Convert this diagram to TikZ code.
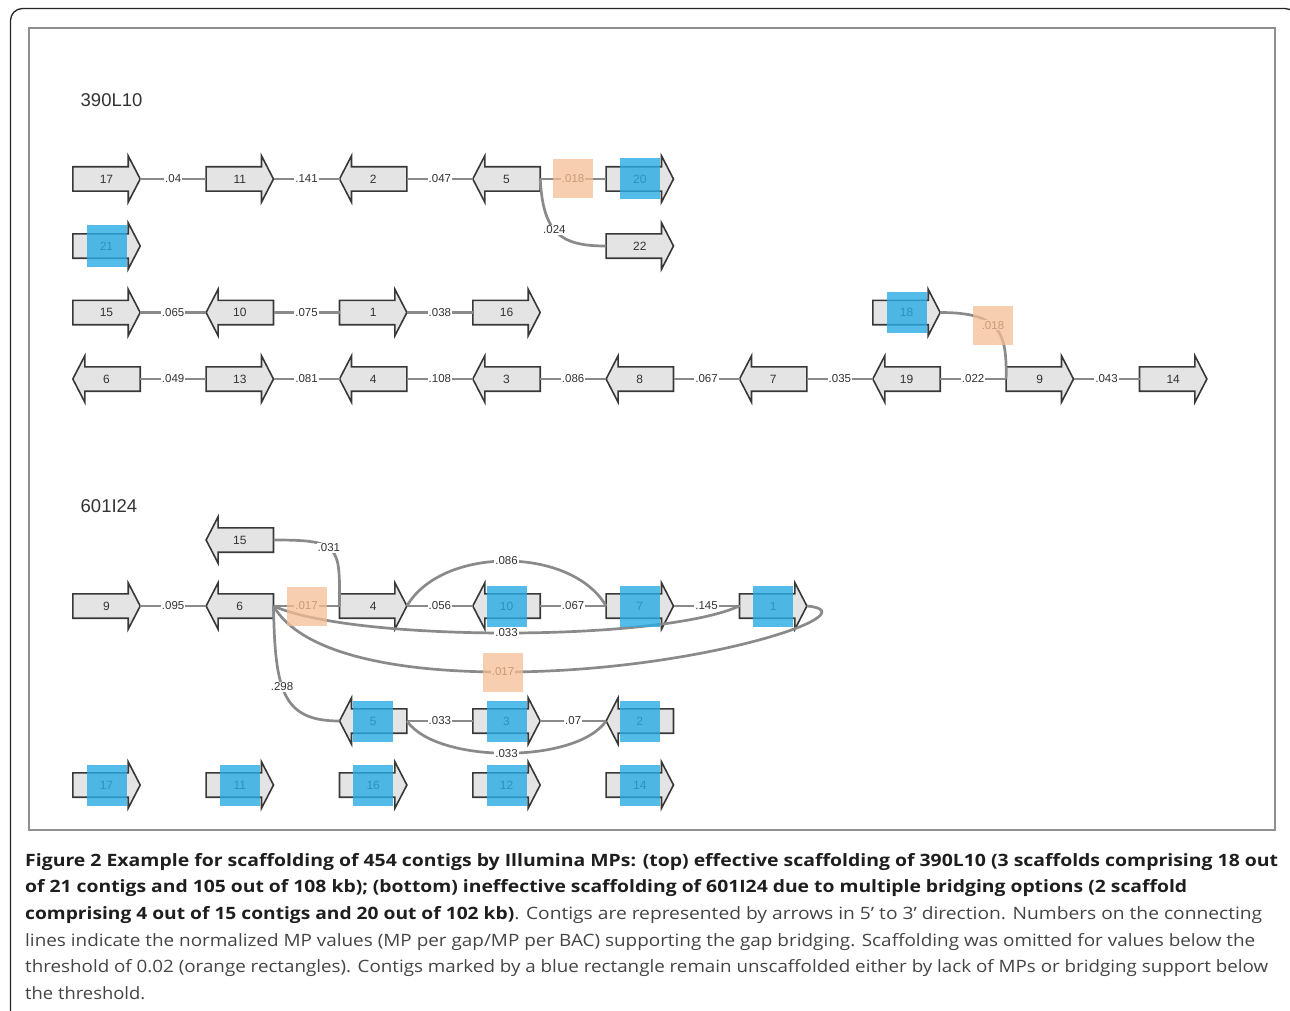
\documentclass[tikz,border=0pt]{standalone}
\usepackage{fontspec}
\setmainfont{Liberation Sans}
\newfontfamily\capfont{Open Sans}
\usepackage{graphicx}
\pgfdeclarelayer{bg}
\pgfdeclarelayer{fg}
\pgfsetlayers{bg,main,fg}
\definecolor{arrfill}{HTML}{E4E4E4}
\definecolor{arrline}{HTML}{383838}
\definecolor{conncol}{HTML}{8A8A8A}
\definecolor{txtcol}{HTML}{333333}
\definecolor{bluebox}{HTML}{29ABE2}
\definecolor{orangebox}{HTML}{F6BE95}
\definecolor{framecol}{HTML}{8F8F8F}
\definecolor{capbold}{HTML}{1E1E1E}
\definecolor{capreg}{HTML}{444444}
\tikzset{
  conn/.style={draw=conncol, line width=2.7pt},
  lbl/.style={fill=white, inner sep=1pt, font=\fontsize{11.5}{13}\selectfont, text=txtcol},
  contig/.style={rectangle, minimum width=67pt, minimum height=24pt, inner sep=0pt, font=\fontsize{12}{13}\selectfont, text=txtcol},
  arrowshape/.style={fill=arrfill, draw=arrline, line width=1.6pt, line join=miter},
  bbox/.style={fill=bluebox, fill opacity=0.8, minimum width=40pt, minimum height=41pt, inner sep=0pt},
  obox/.style={fill=orangebox, fill opacity=0.75, minimum width=40pt, minimum height=39pt, inner sep=0pt},
  sectitle/.style={anchor=west, inner sep=0pt, font=\fontsize{18.5}{20}\selectfont, text=txtcol},
  capl/.style={anchor=base west, inner sep=0pt, font=\capfont\fontsize{17}{20}\selectfont}
}
\newcommand\ctgR[4]{%
  \node[contig] (#1) at (#2,#3) {#4};
  \begin{pgfonlayer}{bg}
  \draw[arrowshape] (#1.north west) -- ([xshift=-12pt]#1.north east) -- ([xshift=-12pt,yshift=11pt]#1.north east) -- (#1.east) -- ([xshift=-12pt,yshift=-11pt]#1.south east) -- ([xshift=-12pt]#1.south east) -- (#1.south west) -- cycle;
  \end{pgfonlayer}}
\newcommand\ctgL[4]{%
  \node[contig] (#1) at (#2,#3) {#4};
  \begin{pgfonlayer}{bg}
  \draw[arrowshape] (#1.north east) -- ([xshift=12pt]#1.north west) -- ([xshift=12pt,yshift=11pt]#1.north west) -- (#1.west) -- ([xshift=12pt,yshift=-11pt]#1.south west) -- ([xshift=12pt]#1.south west) -- (#1.south east) -- cycle;
  \end{pgfonlayer}}
\newsavebox\capbox
\newcommand\capline[2]{\sbox\capbox{#2}\pgfmathsetmacro\capr{#1/\wd\capbox}\scalebox{\capr}[1]{\usebox\capbox}}
\begin{document}
\begin{tikzpicture}[x=1pt,y=-1pt]
\useasboundingbox (0,0) rectangle (1290,1011);
% frames
\draw[black!85, line width=1.3pt, rounded corners=12pt] (10.5,8.5) rectangle (1297,1030);
\draw[framecol, line width=2pt] (29,28) rectangle (1275,830);
% titles
\node[sectitle] (s1) at (80.5,100) {390L10};
\node[sectitle] (s2) at (80.5,506) {601I24};
% ---------- 390L10 ----------
\ctgR{t17}{106.5}{179}{17}
\ctgR{t11}{239.8}{179}{11}
\ctgL{t2}{373.2}{179}{2}
\ctgL{t5}{506.5}{179}{5}
\ctgR{t20}{639.8}{179}{20}
\ctgR{t21}{106.5}{246}{21}
\ctgR{t22}{639.8}{246}{22}
\ctgR{t15}{106.5}{312.5}{15}
\ctgL{t10}{239.8}{312.5}{10}
\ctgR{t1}{373.2}{312.5}{1}
\ctgR{t16}{506.5}{312.5}{16}
\ctgR{t18}{906.5}{312.5}{18}
\ctgL{t6}{106.5}{379}{6}
\ctgR{t13}{239.8}{379}{13}
\ctgL{t4}{373.2}{379}{4}
\ctgL{t3}{506.5}{379}{3}
\ctgL{t8}{639.8}{379}{8}
\ctgL{t7}{773.2}{379}{7}
\ctgL{t19}{906.5}{379}{19}
\ctgR{t9}{1039.8}{379}{9}
\ctgR{t14}{1173.2}{379}{14}
\draw[conn] (t17.east) -- (t11.west) node[lbl, midway] (l1) {.04};
\draw[conn] (t11.east) -- (t2.west) node[lbl, midway] (l2) {.141};
\draw[conn] (t2.east) -- (t5.west) node[lbl, midway] (l3) {.047};
\draw[conn] (t5.east) -- (t20.west) node[lbl, midway] (l4) {.018};
\draw[conn] (t5.east) .. controls +(3,55) and +(-45,0) .. (t22.west) node[lbl, pos=0.45] (l5) {.024};
\draw[conn] (t15.east) -- (t10.west) node[lbl, midway] (l6) {.065};
\draw[conn] (t10.east) -- (t1.west) node[lbl, midway] (l7) {.075};
\draw[conn] (t1.east) -- (t16.west) node[lbl, midway] (l8) {.038};
\draw[conn] (t18.east) .. controls (1000,312.5) and (1007,332) .. (t9.west) node[lbl, pos=0.45] (l9) {.018};
\draw[conn] (t6.east) -- (t13.west) node[lbl, midway] (l10) {.049};
\draw[conn] (t13.east) -- (t4.west) node[lbl, midway] (l11) {.081};
\draw[conn] (t4.east) -- (t3.west) node[lbl, midway] (l12) {.108};
\draw[conn] (t3.east) -- (t8.west) node[lbl, midway] (l13) {.086};
\draw[conn] (t8.east) -- (t7.west) node[lbl, midway] (l14) {.067};
\draw[conn] (t7.east) -- (t19.west) node[lbl, midway] (l15) {.035};
\draw[conn] (t19.east) -- (t9.west) node[lbl, midway] (l16) {.022};
\draw[conn] (t9.east) -- (t14.west) node[lbl, midway] (l17) {.043};
% ---------- 601I24 ----------
\ctgL{b15}{239.8}{540}{15}
\ctgR{b9}{106.5}{606}{9}
\ctgL{b6}{239.8}{606}{6}
\ctgR{b4}{373.2}{606}{4}
\ctgL{b10}{506.5}{606}{10}
\ctgR{b7}{639.8}{606}{7}
\ctgR{b1}{773.2}{606}{1}
\ctgL{b5}{373.2}{721}{5}
\ctgR{b3}{506.5}{721}{3}
\ctgL{b2}{639.8}{721}{2}
\ctgR{b17}{106.5}{785}{17}
\ctgR{b11}{239.8}{785}{11}
\ctgR{b16}{373.2}{785}{16}
\ctgR{b12}{506.5}{785}{12}
\ctgR{b14}{639.8}{785}{14}
\draw[conn] (b6.east) .. controls (275,690) and (282,721) .. (b5.west) node[lbl, pos=0.43] (m1) {.298};
\draw[conn] (b6.east) .. controls +(80,36) and +(-80,36) .. (b1.west) node[lbl, midway] (m2) {.033};
\draw[conn] (b6.east) .. controls (300,652) and (390,672) .. (503,672) node[lbl] (m3) {.017} .. controls (700,672) and (875,612) .. (b1.east);
\draw[conn] (b15.east) .. controls (340,540) and (340,545) .. (b4.west) node[lbl, pos=0.45] (m4) {.031};
\draw[conn] (b4.east) .. controls +(35,-60) and +(-35,-60) .. (b7.west) node[lbl, midway] (m5) {.086};
\draw[conn] (b9.east) -- (b6.west) node[lbl, midway] (m6) {.095};
\draw[conn] (b6.east) -- (b4.west) node[lbl, midway] (m7) {.017};
\draw[conn] (b4.east) -- (b10.west) node[lbl, midway] (m8) {.056};
\draw[conn] (b10.east) -- (b7.west) node[lbl, midway] (m9) {.067};
\draw[conn] (b7.east) -- (b1.west) node[lbl, midway] (m10) {.145};
\draw[conn] (b5.east) .. controls +(30,43) and +(-30,43) .. (b2.west) node[lbl, midway] (m11) {.033};
\draw[conn] (b5.east) -- (b3.west) node[lbl, midway] (m12) {.033};
\draw[conn] (b3.east) -- (b2.west) node[lbl, midway] (m13) {.07};
% overlays
\begin{pgfonlayer}{fg}
\foreach \n in {t20,t21,t18,b10,b7,b1,b5,b3,b2,b17,b11,b16,b12,b14}
  \node[bbox] (bx\n) at (\n) {};
\node[obox] (ox1) at (l4) {};
\node[obox] (ox2) at (l9) {};
\node[obox] (ox3) at (m7) {};
\node[obox] (ox4) at (m3) {};
\end{pgfonlayer}
% caption
\node[capl] (c1) at (25,866) {\capline{1253}{\bfseries\color{capbold}Figure 2 Example for scaffolding of 454 contigs by Illumina MPs: (top) effective scaffolding of 390L10 (3 scaffolds comprising 18 out}};
\node[capl] (c2) at (25,892.7) {\capline{1162}{\bfseries\color{capbold}of 21 contigs and 105 out of 108 kb); (bottom) ineffective scaffolding of 601I24 due to multiple bridging options (2 scaffold}};
\node[capl] (c3) at (25,919.4) {\capline{1237}{{\bfseries\color{capbold}comprising 4 out of 15 contigs and 20 out of 102 kb)}\color{capreg}. Contigs are represented by arrows in 5’ to 3’ direction. Numbers on the connecting}};
\node[capl] (c4) at (25,946.1) {\capline{1230}{\color{capreg}lines indicate the normalized MP values (MP per gap/MP per BAC) supporting the gap bridging. Scaffolding was omitted for values below the}};
\node[capl] (c5) at (25,972.8) {\capline{1243}{\color{capreg}threshold of 0.02 (orange rectangles). Contigs marked by a blue rectangle remain unscaffolded either by lack of MPs or bridging support below}};
\node[capl] (c6) at (25,999.5) {\capline{120}{\color{capreg}the threshold.}};
\end{tikzpicture}
\end{document}
